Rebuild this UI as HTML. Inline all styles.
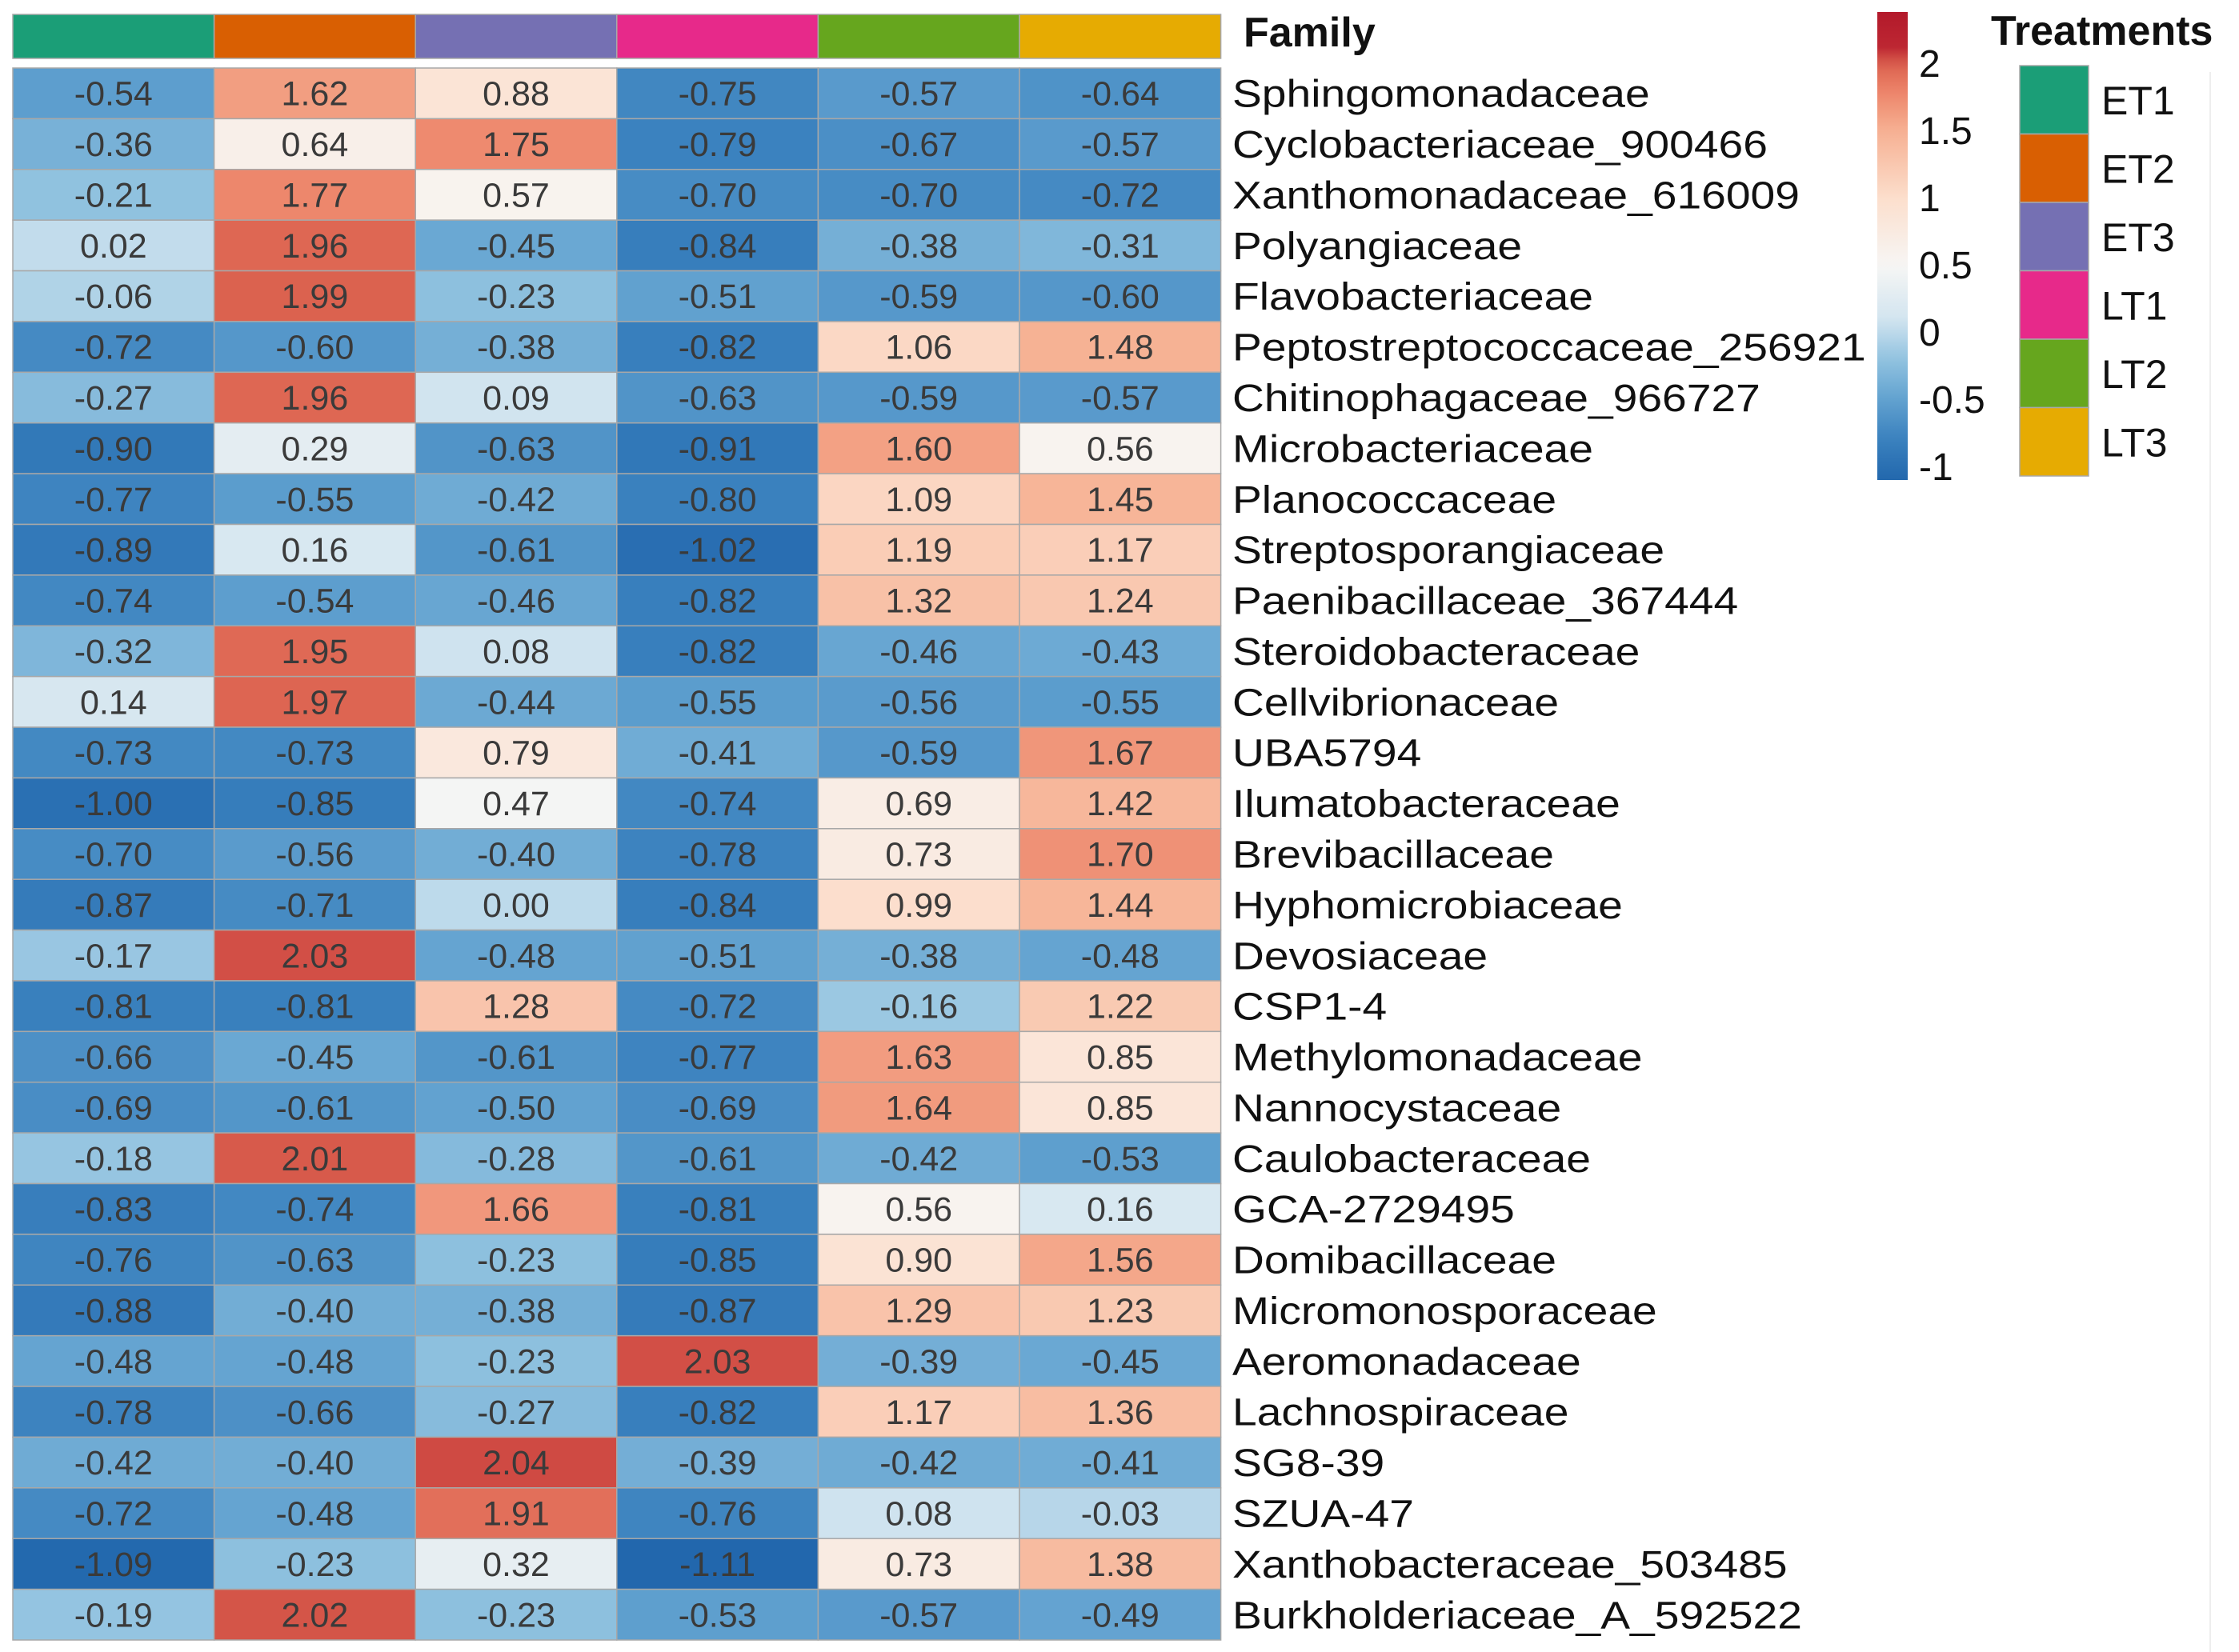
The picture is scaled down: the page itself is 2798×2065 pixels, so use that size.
<!DOCTYPE html>
<html><head><meta charset="utf-8">
<style>
html,body{margin:0;padding:0;background:#fff;}
svg{display:block;font-family:"Liberation Sans",Arial,sans-serif;}
</style></head>
<body>
<svg id="chart" width="2798" height="2065" viewBox="0 0 2798 2065" xmlns="http://www.w3.org/2000/svg">
<rect width="2798" height="2065" fill="#fff"/>
<line x1="2762" y1="90" x2="2762" y2="2065" stroke="#eee" stroke-width="2"/>
<g id="cells"></g>
<g id="annot"></g>
<g id="labels"></g>
<g id="legend"></g>
</svg>
<script>
const treatments = ["ET1","ET2","ET3","LT1","LT2","LT3"];
const treatmentColors = ["#1b9e77","#d95f02","#7570b3","#e7298a","#66a61e","#e6ab02"];
const rowNames = ["Sphingomonadaceae","Cyclobacteriaceae_900466","Xanthomonadaceae_616009","Polyangiaceae","Flavobacteriaceae","Peptostreptococcaceae_256921","Chitinophagaceae_966727","Microbacteriaceae","Planococcaceae","Streptosporangiaceae","Paenibacillaceae_367444","Steroidobacteraceae","Cellvibrionaceae","UBA5794","Ilumatobacteraceae","Brevibacillaceae","Hyphomicrobiaceae","Devosiaceae","CSP1-4","Methylomonadaceae","Nannocystaceae","Caulobacteraceae","GCA-2729495","Domibacillaceae","Micromonosporaceae","Aeromonadaceae","Lachnospiraceae","SG8-39","SZUA-47","Xanthobacteraceae_503485","Burkholderiaceae_A_592522"];
const values = [
[-0.54,1.62,0.88,-0.75,-0.57,-0.64],
[-0.36,0.64,1.75,-0.79,-0.67,-0.57],
[-0.21,1.77,0.57,-0.70,-0.70,-0.72],
[0.02,1.96,-0.45,-0.84,-0.38,-0.31],
[-0.06,1.99,-0.23,-0.51,-0.59,-0.60],
[-0.72,-0.60,-0.38,-0.82,1.06,1.48],
[-0.27,1.96,0.09,-0.63,-0.59,-0.57],
[-0.90,0.29,-0.63,-0.91,1.60,0.56],
[-0.77,-0.55,-0.42,-0.80,1.09,1.45],
[-0.89,0.16,-0.61,-1.02,1.19,1.17],
[-0.74,-0.54,-0.46,-0.82,1.32,1.24],
[-0.32,1.95,0.08,-0.82,-0.46,-0.43],
[0.14,1.97,-0.44,-0.55,-0.56,-0.55],
[-0.73,-0.73,0.79,-0.41,-0.59,1.67],
[-1.00,-0.85,0.47,-0.74,0.69,1.42],
[-0.70,-0.56,-0.40,-0.78,0.73,1.70],
[-0.87,-0.71,0.00,-0.84,0.99,1.44],
[-0.17,2.03,-0.48,-0.51,-0.38,-0.48],
[-0.81,-0.81,1.28,-0.72,-0.16,1.22],
[-0.66,-0.45,-0.61,-0.77,1.63,0.85],
[-0.69,-0.61,-0.50,-0.69,1.64,0.85],
[-0.18,2.01,-0.28,-0.61,-0.42,-0.53],
[-0.83,-0.74,1.66,-0.81,0.56,0.16],
[-0.76,-0.63,-0.23,-0.85,0.90,1.56],
[-0.88,-0.40,-0.38,-0.87,1.29,1.23],
[-0.48,-0.48,-0.23,2.03,-0.39,-0.45],
[-0.78,-0.66,-0.27,-0.82,1.17,1.36],
[-0.42,-0.40,2.04,-0.39,-0.42,-0.41],
[-0.72,-0.48,1.91,-0.76,0.08,-0.03],
[-1.09,-0.23,0.32,-1.11,0.73,1.38],
[-0.19,2.02,-0.23,-0.53,-0.57,-0.49]
];
const legendTicks = [2,1.5,1,0.5,0,-0.5,-1];

const NS="http://www.w3.org/2000/svg";
function mk(tag,attrs,parent){const e=document.createElementNS(NS,tag);for(const k in attrs)e.setAttribute(k,attrs[k]);parent.appendChild(e);return e;}
const gridLeft=16, colW=251.6, gridTop=85, gridBottom=2050;
const rowH=(gridBottom-gridTop)/values.length;
const xPos=i=>gridLeft+i*colW;
const yPos=j=>gridTop+j*rowH;
const SX=1.15;
const stops=[[-1.12,[33,102,172]],[-0.8,[58,129,190]],[-0.5,[98,162,208]],[-0.2,[146,195,224]],[0.1,[211,229,240]],[0.5,[247,246,244]],[1.0,[252,222,204]],[1.5,[246,176,146]],[1.8,[236,130,104]],[2.0,[218,96,78]],[2.1,[190,40,50]],[2.4,[178,24,43]]];
function color(v){
  if(v<=stops[0][0])return `rgb(${stops[0][1]})`;
  for(let i=1;i<stops.length;i++){if(v<=stops[i][0]){const a=stops[i-1],b=stops[i];const t=(v-a[0])/(b[0]-a[0]);const c=a[1].map((x,k)=>Math.round(x+(b[1][k]-x)*t));return `rgb(${c})`;}}
  return `rgb(${stops[stops.length-1][1]})`;
}
const cells=document.getElementById('cells');
values.forEach((row,j)=>{row.forEach((v,i)=>{
  const r=mk('rect',{x:xPos(i),y:yPos(j),width:colW,height:rowH,fill:color(v),stroke:'#a8a8a8','stroke-width':1.5},cells);
  
  
  const t=mk('text',{x:xPos(i)+colW/2,y:yPos(j)+rowH/2+15,'text-anchor':'middle','font-size':43,fill:'#3a3a3a'},cells);
  t.textContent=v.toFixed(2);
  
  
});});
const annot=document.getElementById('annot');
treatments.forEach((tr,i)=>{
  const r=mk('rect',{x:xPos(i),y:18,width:colW,height:55,fill:treatmentColors[i],stroke:'#a8a8a8','stroke-width':1.5},annot);
  
  
});
const labels=document.getElementById('labels');
rowNames.forEach((n,j)=>{
  const t=mk('text',{x:1540/SX,y:yPos(j)+rowH/2+17,'font-size':48,fill:'#111',transform:`scale(${SX},1)`},labels);
  t.textContent=n;
  
  
});
const fam=mk('text',{x:1554,y:58,'font-size':52,'font-weight':'bold',fill:'#111'},labels);
fam.textContent='Family';


const lg=document.getElementById('legend');
const barTop=15, barBot=600, vTop=2.38, vBot=-1.1;
const ly=v=>barTop+(vTop-v)/(vTop-vBot)*(barBot-barTop);
const defs=mk('defs',{},lg);
const grad=mk('linearGradient',{id:'cbar',x1:0,y1:0,x2:0,y2:1},defs);
for(let k=0;k<=40;k++){const v=vTop-(vTop-vBot)*k/40;mk('stop',{offset:(k/40),'stop-color':color(v)},grad);}
const cb=mk('rect',{x:2346,y:barTop,width:38,height:barBot-barTop,fill:'url(#cbar)'},lg);


legendTicks.forEach(v=>{
  const t=mk('text',{x:2398,y:ly(v)+17,'font-size':48,fill:'#111'},lg);
  t.textContent=String(v);
  
  
});
const tt=mk('text',{x:2488,y:56,'font-size':52,'font-weight':'bold',fill:'#111'},lg);
tt.textContent='Treatments';


const bh=(595-82)/6;
treatments.forEach((tr,i)=>{
  const r=mk('rect',{x:2524,y:82+i*bh,width:86,height:bh,fill:treatmentColors[i],stroke:'#a8a8a8','stroke-width':1.5},lg);
  
  
  const t=mk('text',{x:2626,y:82+i*bh+bh/2+18,'font-size':50,fill:'#111'},lg);
  t.textContent=tr;
  
  
});
</script>
</body></html>
